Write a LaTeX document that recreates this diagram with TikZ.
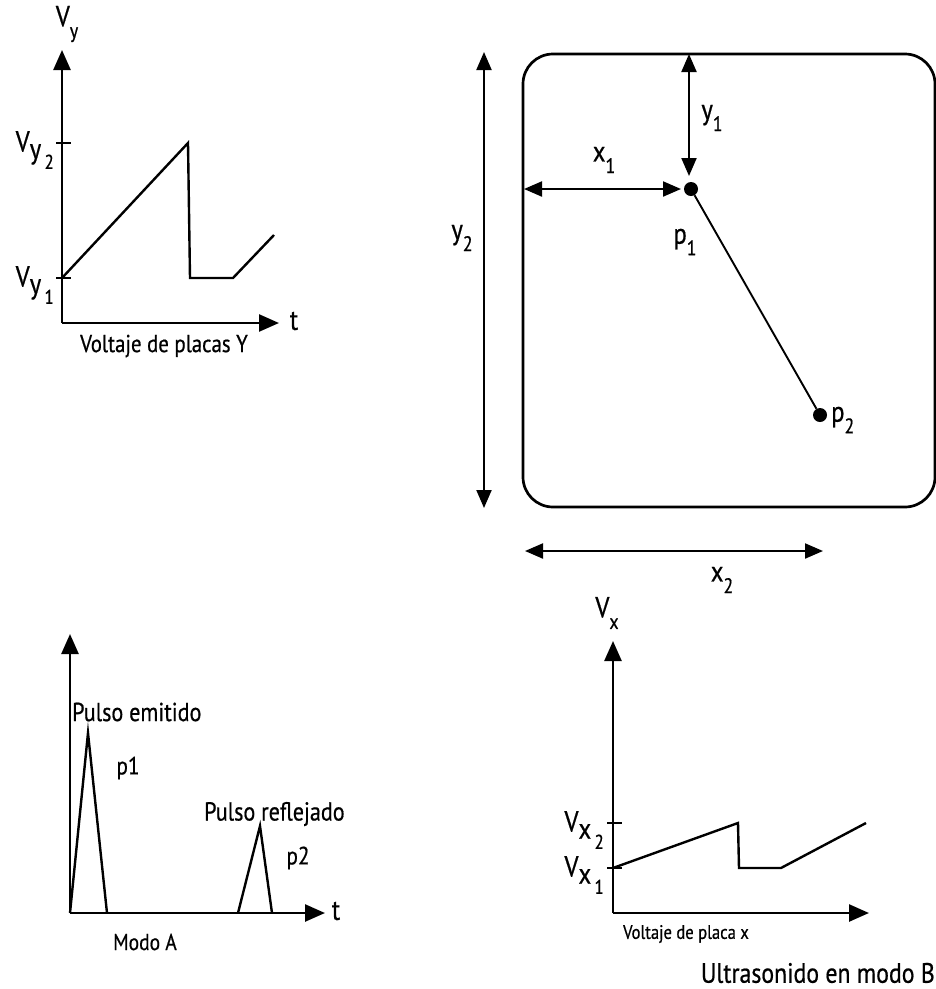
\documentclass[tikz,border=0pt]{standalone}
\usepackage{fontspec}
\setmainfont{PT Sans}[FakeStretch=0.85, FakeBold=0.6]
\usetikzlibrary{arrows.meta}
\newcommand{\lsb}[2]{#1\raisebox{-0.4em}{\fontsize{21}{21}\selectfont #2}}
\newcommand{\vvsub}[2]{V\raisebox{-0.25em}{#1\raisebox{-0.35em}{\fontsize{20}{20}\selectfont\,#2}}}
\tikzset{
  x=1pt, y=-1pt,
  ax/.style={line width=2.5pt, -{Triangle[length=20pt,width=17pt]}},
  dimarr/.style={line width=2.1pt, {Triangle[length=18pt,width=15pt]}-{Triangle[length=18pt,width=15pt]}},
  wave/.style={line width=2.4pt, line join=miter},
  tick/.style={line width=2pt},
  big/.style={font=\fontsize{29}{31}\selectfont, inner sep=0pt},
  mid/.style={font=\fontsize{25}{28}\selectfont, inner sep=0pt},
  dot/.style={circle, fill=black, inner sep=0pt, minimum size=14pt},
}
\begin{document}
\begin{tikzpicture}
\useasboundingbox (0,0) rectangle (936,989);
\clip (0,0) rectangle (936,989);
% ---------- top-left: Voltaje de placas Y ----------
\coordinate (oy) at (62,323);
\coordinate (oytop) at (62,50);
\coordinate (oyright) at (279,323);
\draw[ax] (oy) -- (oytop);
\draw[ax] (oy) -- (oyright);
\coordinate (vy2) at (62,143);
\coordinate (vy1) at (62,278);
\draw[tick] ([xshift=-6pt]vy2) -- ([xshift=9pt]vy2);
\draw[tick] ([xshift=-6pt]vy1) -- ([xshift=9pt]vy1);
\coordinate (a1) at (188,143);
\coordinate (a2) at (190,278);
\coordinate (a3) at (233,278);
\coordinate (a4) at (274,235);
\draw[wave] (vy1) -- (a1) -- (a2) -- (a3) -- (a4);
\node[big] (lvy) at (67,24) {\lsb{V}{y}};
\node[big, anchor=east] (lvy2) at (54,150) {\vvsub{y}{2}};
\node[big, anchor=east] (lvy1) at (54,285) {\vvsub{y}{1}};
\node[big] (lt1) at (294,321) {t};
\node[font=\fontsize{24.5}{26}\selectfont, inner sep=0pt] (cap1) at (164,346) {Voltaje de placas Y};
% ---------- top-right: screen ----------
\draw[line width=2.7pt, rounded corners=30pt] (523,54) rectangle (935,507);
\node[dot] (p1) at (691,189) {};
\node[dot] (p2) at (820,415) {};
\draw[line width=1.9pt] (p1) -- (p2);
\coordinate (y2t) at (484,52);
\coordinate (y2b) at (484,508);
\draw[dimarr] (y2t) -- (y2b);
\coordinate (y1t) at (689,54);
\coordinate (y1b) at (689,176);
\draw[dimarr] (y1t) -- (y1b);
\coordinate (x1l) at (524,189);
\coordinate (x1r) at (681,189);
\draw[dimarr] (x1l) -- (x1r);
\coordinate (x2l) at (525,551);
\coordinate (x2r) at (823,551);
\draw[dimarr] (x2l) -- (x2r);
\node[big] (ly2) at (462,238) {\lsb{y}{2}};
\node[big] (ly1) at (712,118) {\lsb{y}{1}};
\node[big] (lx1) at (604,160) {\lsb{x}{1}};
\node[big] (lp1) at (685,242) {\lsb{p}{1}};
\node[big, anchor=west] (lp2) at (831,420) {\lsb{p}{2}};
\node[big] (lx2) at (722,580) {\lsb{x}{2}};
% ---------- bottom-right: Voltaje de placa x ----------
\coordinate (ox) at (613,913);
\coordinate (oxtop) at (613,641);
\coordinate (oxright) at (869,913);
\draw[ax] (ox) -- (oxtop);
\draw[ax] (ox) -- (oxright);
\coordinate (vx2) at (613,823);
\coordinate (vx1) at (613,868);
\draw[tick] ([xshift=-6pt]vx2) -- ([xshift=9pt]vx2);
\draw[tick] ([xshift=-6pt]vx1) -- ([xshift=9pt]vx1);
\coordinate (b1) at (738,823);
\coordinate (b2) at (739,868);
\coordinate (b3) at (781,868);
\coordinate (b4) at (866,823);
\draw[wave] (vx1) -- (b1) -- (b2) -- (b3) -- (b4);
\node[big] (lvx) at (607,613) {\lsb{V}{x}};
\node[big, anchor=east] (lvx2) at (604,830) {\vvsub{x}{2}};
\node[big, anchor=east] (lvx1) at (604,875) {\vvsub{x}{1}};
\node[font=\fontsize{19.5}{21}\selectfont, inner sep=0pt] (cap2) at (686,934) {Voltaje de placa x};
\node[font=\fontsize{28}{30}\selectfont, inner sep=0pt, anchor=east] (cap3) at (935,973) {Ultrasonido en modo B};
% ---------- bottom-left: Modo A ----------
\coordinate (oa) at (70,913);
\coordinate (oatop) at (70,634);
\coordinate (oaright) at (325,913);
\draw[ax] (oa) -- (oatop);
\draw[ax] (oa) -- (oaright);
\coordinate (c1) at (88,733);
\coordinate (c2) at (107,913);
\coordinate (c3) at (238,913);
\coordinate (c4) at (260,826);
\coordinate (c5) at (272,913);
\draw[wave] (oa) -- (c1) -- (c2);
\draw[wave] (c3) -- (c4) -- (c5);
\node[big] (lt2) at (336,911) {t};
\node[font=\fontsize{26}{28}\selectfont, inner sep=0pt, anchor=west] (pe) at (72,712) {Pulso emitido};
\node[mid] (lpa) at (128,768) {p1};
\node[font=\fontsize{26}{28}\selectfont, inner sep=0pt, anchor=west] (pr) at (204,814) {Pulso reflejado};
\node[mid] (lpb) at (298,858) {p2};
\node[font=\fontsize{23}{25}\selectfont, inner sep=0pt] (cap4) at (145,942) {Modo A};
\end{tikzpicture}
\end{document}
